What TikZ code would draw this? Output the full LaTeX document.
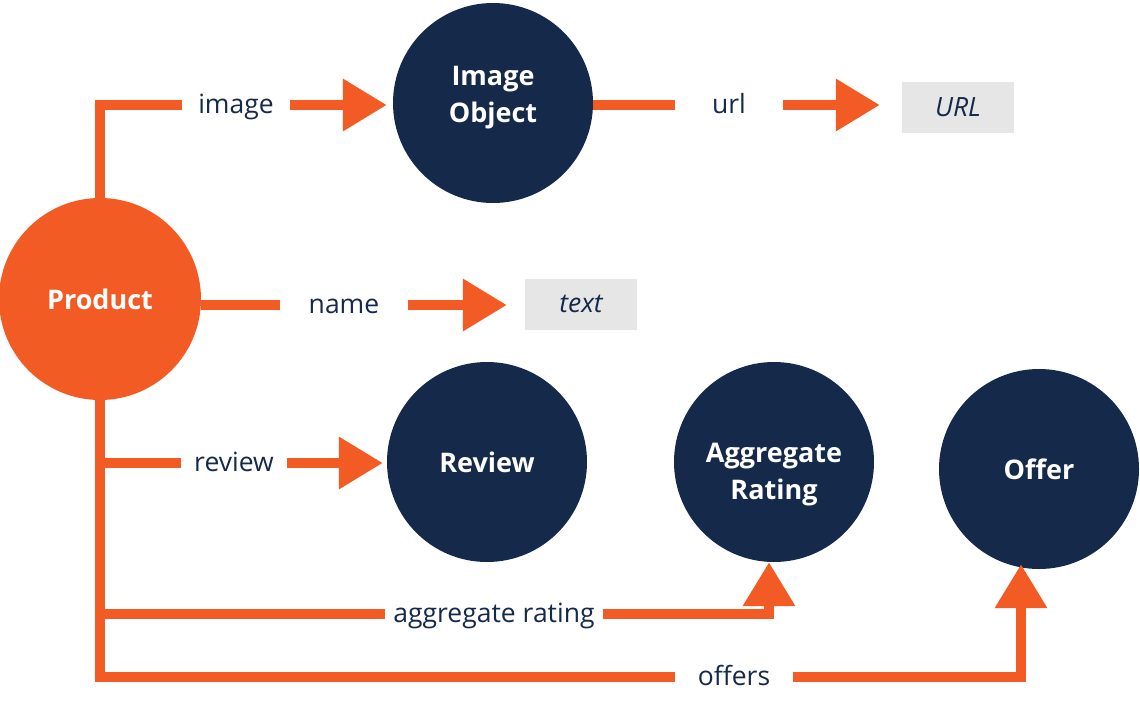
\documentclass[tikz,border=0pt]{standalone}
\usepackage{fontspec}
\setmainfont{Open Sans}
\usetikzlibrary{positioning,arrows.meta}
\definecolor{schemaorange}{HTML}{F25B24}
\definecolor{schemanavy}{HTML}{15294B}
\definecolor{schemagray}{HTML}{E6E6E6}

\begin{document}
\begin{tikzpicture}[%
    x=1pt,
    y=-1pt,
    >={Triangle[length=44pt,width=50pt]},
    link/.style={%
      draw=schemaorange,
      line width=10pt
    },
    thing/.style={%
      circle,
      minimum size=200pt,
      inner sep=0pt,
      fill=schemanavy,
      text=white,
      align=center,
      font=\fontsize{27}{37}\selectfont\bfseries
    },
    prop/.style={%
      text=schemanavy,
      inner sep=0pt,
      text height=22pt,
      text depth=5pt,
      font=\fontsize{26.5}{30}\selectfont
    },
    literal/.style={%
      rectangle,
      fill=schemagray,
      text=schemanavy,
      minimum width=112pt,
      minimum height=51pt,
      font=\fontsize{26.5}{30}\selectfont\itshape
    }
  ]
    \useasboundingbox (0,0) rectangle (1140,704);

    \node[thing, fill=schemaorange, minimum size=202pt] (Product) at (100,299) {Product};
    \node[thing, text height=44pt, text depth=6pt] (ImageObject) at (493,103) {Image\\Object};
    \node[thing] (Review) at (487,462) {Review};
    \node[thing, text height=80pt, text depth=6pt] (AggregateRating) at (774,462) {Aggregate\\Rating};
    \node[thing] (Offer) at (1039,469) {Offer};

    \node[literal] (URL) at (958,107) {URL};
    \node[literal] (Text) at (581,304) {text};

    \node[prop, minimum width=108pt] (Limage) at (236,105) {image};
    \node[prop, minimum width=108pt] (Lurl) at (729,105) {url};
    \node[prop, minimum width=128pt] (Lname) at (344,305) {name};
    \node[prop, minimum width=105pt] (Lreview) at (234,463) {review};
    \node[prop, minimum width=218pt] (Laggregate) at (494,614) {aggregate rating};
    \node[prop, minimum width=118pt] (Loffers) at (734,677) {offers};

    % image
    \draw[link] (Product.north) |- (Limage.west);
    \draw[link, ->, shorten >=6pt] (Limage.east) -- (Limage.east -| ImageObject.west);
    % url
    \draw[link] (ImageObject.east |- Lurl) -- (Lurl.west);
    \draw[link, ->, shorten >=22pt] (Lurl.east) -- (Lurl.east -| URL.west);
    % name
    \draw[link] (Product.east |- Lname) -- (Lname.west);
    \draw[link, ->, shorten >=18pt] (Lname.east) -- (Lname.east -| Text.west);
    % review, aggregate rating, offers
    \draw[link] (Product.south) |- (Loffers.west);
    \draw[link] (Product.south |- Lreview) -- (Lreview.west);
    \draw[link, ->, shorten >=4pt] (Lreview.east) -- (Lreview.east -| Review.west);
    \draw[link] (Product.south |- Laggregate) -- (Laggregate.west);
    \draw[link, ->] (Laggregate.east) -| ([xshift=-5pt]AggregateRating.south);
    \draw[link, ->] (Loffers.east) -| ([xshift=-18pt,yshift=5pt]Offer.south);
\end{tikzpicture}
\end{document}
